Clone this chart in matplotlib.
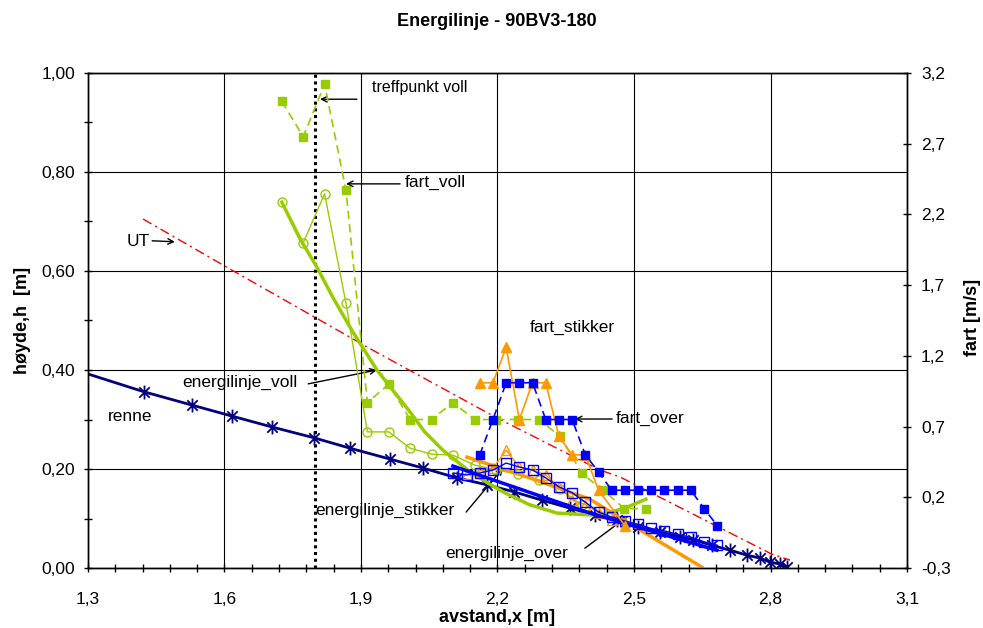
import numpy as np
import matplotlib.pyplot as plt
from matplotlib.path import Path
from matplotlib.ticker import FixedLocator, FuncFormatter

plt.rcParams['font.family'] = ['Liberation Sans', 'DejaVu Sans']

GREEN = '#99CC00'
ORANGE = '#FF9900'
BLUE = '#0000FF'
NAVY = '#000080'
RED = '#FF0000'

# renne (bunn), venstre akse
renne_x = [1.300, 1.423, 1.529, 1.616, 1.704, 1.797, 1.876, 1.964, 2.036, 2.111, 2.177,
           2.236, 2.298, 2.359, 2.414, 2.463, 2.509, 2.557, 2.601, 2.630, 2.671, 2.711,
           2.748, 2.777, 2.799, 2.821, 2.836]
renne_h = [0.392, 0.356, 0.329, 0.307, 0.285, 0.263, 0.242, 0.220, 0.202, 0.182, 0.168,
           0.154, 0.137, 0.121, 0.107, 0.097, 0.083, 0.073, 0.063, 0.057, 0.046, 0.036,
           0.026, 0.020, 0.012, 0.008, 0.002]

# UT
ut_x = [1.421, 1.612, 1.926, 2.195, 2.425, 2.469, 2.803, 2.843]
ut_h = [0.705, 0.604, 0.440, 0.305, 0.198, 0.184, 0.028, 0.016]

# voll
voll_x = [1.726, 1.773, 1.820, 1.867, 1.914, 1.961, 2.008, 2.055, 2.102, 2.150, 2.197,
          2.244, 2.291, 2.338, 2.385, 2.432, 2.479, 2.526]
voll_h = [0.739, 0.657, 0.756, 0.535, 0.275, 0.275, 0.242, 0.230, 0.228, 0.208, 0.198,
          0.190, 0.178, 0.160, 0.127]
fart_voll = [3.00, 2.75, 3.12, 2.37, 0.87, 1.00, 0.75, 0.75, 0.87, 0.75, 0.75, 0.75,
             0.75, 0.63, 0.37, 0.25, 0.12, 0.12]
evoll_x = [1.726, 1.766, 1.803, 1.838, 1.880, 1.935, 2.008, 2.040, 2.080, 2.140, 2.180,
           2.216, 2.270, 2.331, 2.410, 2.450, 2.485, 2.526]
evoll_h = [0.739, 0.665, 0.608, 0.547, 0.480, 0.400, 0.315, 0.275, 0.238, 0.194, 0.171,
           0.152, 0.128, 0.111, 0.107, 0.113, 0.123, 0.139]

# stikker
stikker_x = [2.132, 2.161, 2.190, 2.219, 2.248, 2.277, 2.306, 2.335, 2.364, 2.393, 2.422,
             2.451, 2.480]
stikker_h = [0.190, 0.196, 0.202, 0.238, 0.204, 0.198, 0.188, 0.164, 0.137, 0.128, 0.112,
             0.098, 0.092]
fart_stikker_x = [2.161, 2.190, 2.219, 2.248, 2.277, 2.306, 2.335, 2.364, 2.393, 2.422, 2.480]
fart_stikker = [1.01, 1.01, 1.26, 0.75, 1.01, 1.01, 0.63, 0.50, 0.50, 0.25, 0.00]
estikker_x = [2.133, 2.271, 2.403, 2.491, 2.649]
estikker_h = [0.224, 0.182, 0.139, 0.089, 0.002]

# over
over_x = [2.103, 2.132, 2.161, 2.190, 2.219, 2.248, 2.277, 2.306, 2.335, 2.364, 2.393,
          2.422, 2.451, 2.480, 2.509, 2.538, 2.567, 2.596, 2.625, 2.654, 2.683]
over_h = [0.192, 0.188, 0.192, 0.198, 0.212, 0.204, 0.198, 0.182, 0.164, 0.152, 0.133,
          0.113, 0.103, 0.095, 0.088, 0.080, 0.075, 0.068, 0.062, 0.053, 0.046]
fart_over = [0.50, 0.75, 1.01, 1.01, 1.01, 0.75, 0.75, 0.75, 0.50, 0.38, 0.25, 0.25,
             0.25, 0.25, 0.25, 0.25, 0.25, 0.12, 0.00]
eover_x = [2.102, 2.403, 2.682]
eover_h = [0.206, 0.111, 0.036]

treffpunkt_x = 1.8

x_ticks = np.arange(1.3, 3.11, 0.3)
x_minor = np.arange(1.3, 3.11, 0.06)
h_ticks = np.arange(0, 1.01, 0.2)
h_minor = np.arange(0, 1.01, 0.1)
fart_ticks = np.arange(-0.3, 3.21, 0.5)

# excel-like asterisk: vertical bar + x
star = Path([(0, -1), (0, 1), (-0.75, -0.75), (0.75, 0.75), (-0.75, 0.75), (0.75, -0.75)],
            [Path.MOVETO, Path.LINETO, Path.MOVETO, Path.LINETO, Path.MOVETO, Path.LINETO])

fig = plt.figure(figsize=(9.83, 6.28), dpi=100)
ax = fig.add_axes([0.0895, 0.0955, 0.8332, 0.7883])
ax2 = ax.twinx()

ax.set_xlim(1.3, 3.1)
ax.set_ylim(0, 1.0)
ax2.set_ylim(-0.3, 3.2)

ax.xaxis.set_major_locator(FixedLocator(x_ticks))
ax.xaxis.set_minor_locator(FixedLocator(x_minor))
ax.yaxis.set_major_locator(FixedLocator(h_ticks))
ax.yaxis.set_minor_locator(FixedLocator(h_minor))
ax2.yaxis.set_major_locator(FixedLocator(fart_ticks))

ax.xaxis.set_major_formatter(FuncFormatter(lambda v, p: f"{v:.1f}".replace('.', ',')))
ax.yaxis.set_major_formatter(FuncFormatter(lambda v, p: f"{v:.2f}".replace('.', ',')))
ax2.yaxis.set_major_formatter(FuncFormatter(lambda v, p: f"{v:.1f}".replace('.', ',')))

ax.tick_params(which='both', direction='inout', length=6, width=1, labelsize=12.5)
ax.tick_params(axis='x', which='major', pad=14)
ax.tick_params(axis='y', which='major', pad=6)
ax2.tick_params(which='both', direction='inout', length=6, width=1, labelsize=12.5, pad=7)

ax.grid(True, which='major', color='black', lw=0.8)
for a in (ax, ax2):
    for s in a.spines.values():
        s.set_color('black')
        s.set_linewidth(1)

ax.axvline(treffpunkt_x, color='black', lw=2.2, ls=(0, (1, 1.2)), zorder=3)

# left axis series
ax.plot(ut_x, ut_h, color=RED, lw=1, ls=(0, (7, 3, 1.5, 3)), zorder=3)
ax.plot(renne_x, renne_h, color=NAVY, lw=2, marker=star, ms=10, mew=1.3,
        markevery=list(range(1, len(renne_x))), zorder=4)
ax.plot(voll_x[:len(voll_h)], voll_h, color=GREEN, lw=1, marker='o', ms=6.5,
        mfc='none', mec=GREEN, mew=1, zorder=4)
ax.plot(evoll_x, evoll_h, color=GREEN, lw=2.5, zorder=4)
ax.plot(stikker_x, stikker_h, color=ORANGE, lw=1, marker='^', ms=7,
        mfc='none', mec=ORANGE, mew=1, zorder=4)
ax.plot(estikker_x, estikker_h, color=ORANGE, lw=2.5, zorder=4)
ax.plot(over_x, over_h, color=BLUE, lw=1, marker='s', ms=6.5,
        mfc='none', mec=BLUE, mew=1, zorder=4)
ax.plot(eover_x, eover_h, color=BLUE, lw=2.5, zorder=4)

# right axis series (fart)
ax2.plot(voll_x, fart_voll, color=GREEN, lw=1.2, ls=(0, (5, 3)), marker='s', ms=5.5,
         mfc=GREEN, mec=GREEN)
ax2.plot(fart_stikker_x, fart_stikker, color=ORANGE, lw=1.2, marker='^', ms=7,
         mfc=ORANGE, mec=ORANGE)
ax2.plot(over_x[2:], fart_over, color=BLUE, lw=1.2, ls=(0, (5, 3)), marker='s', ms=5.5,
         mfc=BLUE, mec=BLUE)

# annotations
arrow = dict(arrowstyle='->', color='black', lw=1, shrinkA=0, shrinkB=0)
fs = 12.5
ax.text(1.924, 0.970, 'treffpunkt voll', fontsize=11.5, va='center')
ax.annotate('', xy=(1.810, 0.947), xytext=(1.891, 0.947), arrowprops=arrow)
ax.text(1.997, 0.778, 'fart_voll', fontsize=fs, va='center')
ax.annotate('', xy=(1.867, 0.776), xytext=(1.986, 0.776), arrowprops=arrow)
ax.text(1.386, 0.659, 'UT', fontsize=fs, va='center')
ax.annotate('', xy=(1.491, 0.659), xytext=(1.441, 0.661), arrowprops=arrow)
ax.text(1.507, 0.374, 'energilinje_voll', fontsize=fs, va='center')
ax.annotate('', xy=(1.935, 0.400), xytext=(1.784, 0.372), arrowprops=arrow)
ax.text(2.271, 0.485, 'fart_stikker', fontsize=fs, va='center')
ax.text(2.460, 0.303, 'fart_over', fontsize=fs, va='center')
ax.annotate('', xy=(2.370, 0.301), xytext=(2.452, 0.301), arrowprops=arrow)
ax.text(1.799, 0.117, 'energilinje_stikker', fontsize=fs, va='center')
ax.annotate('', xy=(2.212, 0.202), xytext=(2.131, 0.113), arrowprops=arrow)
ax.text(2.085, 0.030, 'energilinje_over', fontsize=fs, va='center')
ax.annotate('', xy=(2.487, 0.105), xytext=(2.392, 0.040), arrowprops=arrow)
ax.text(1.344, 0.307, 'renne', fontsize=fs, va='center')

fig.text(0.5056, 0.965, 'Energilinje - 90BV3-180', fontsize=13, fontweight='bold',
         ha='center', va='center')
fig.text(0.5056, 0.0175, 'avstand,x [m]', fontsize=13, fontweight='bold',
         ha='center', va='center')
fig.text(0.0224, 0.49, 'høyde,h  [m]', fontsize=13, fontweight='bold',
         ha='center', va='center', rotation=90)
fig.text(0.989, 0.494, 'fart [m/s]', fontsize=13, fontweight='bold',
         ha='center', va='center', rotation=90)

fig.savefig('out.png', dpi=100)
